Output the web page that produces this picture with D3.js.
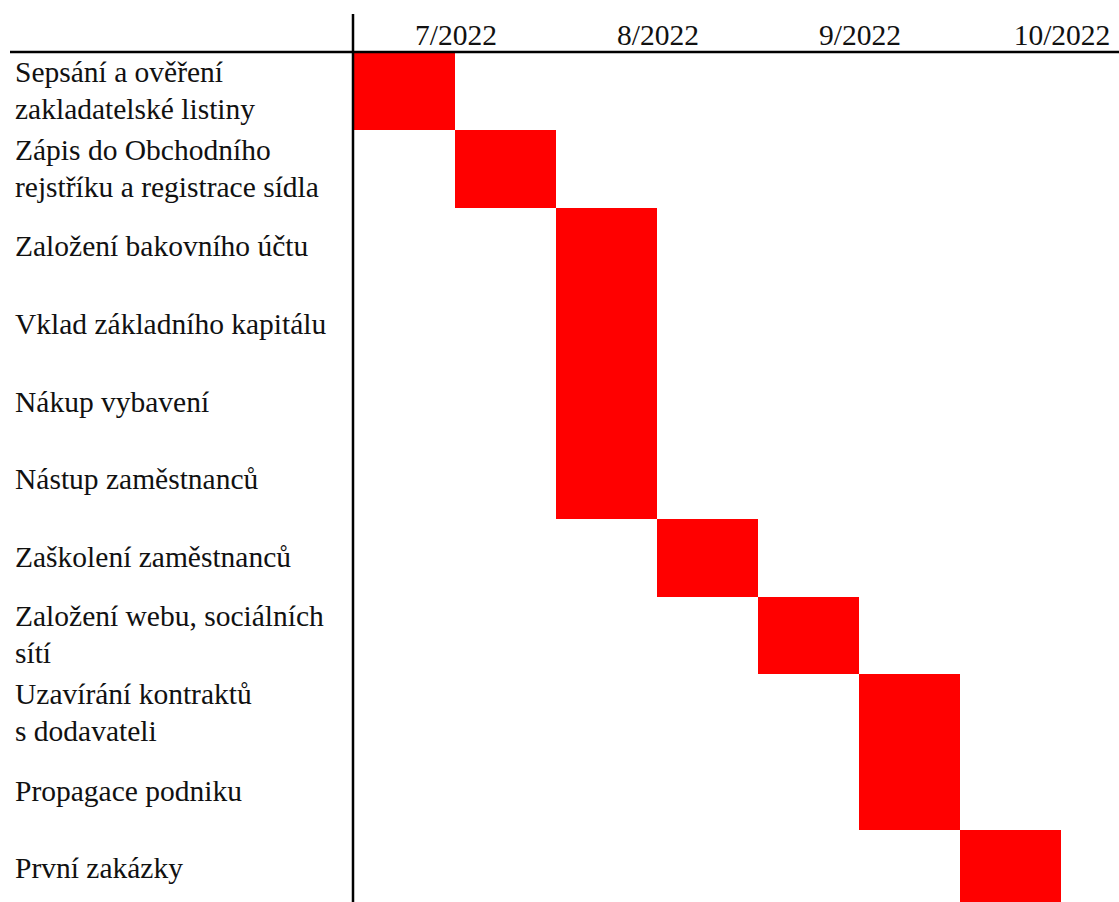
<!DOCTYPE html>
<html lang="cs">
<head>
<meta charset="utf-8">
<title>Harmonogram založení podniku</title>
<script src="https://cdn.jsdelivr.net/npm/d3@7"></script>
<style>
  html, body { margin: 0; padding: 0; background: #fff; }
  svg { display: block; }
  text, tspan { font-family: "Liberation Serif", "DejaVu Serif", serif; fill: #111; }
</style>
</head>
<body>
<svg id="chart" width="1119" height="902"></svg>
<script>
// Months shown in the header; each month is split into two halves.
const months = ["7/2022", "8/2022", "9/2022", "10/2022"];

// Task names (each array entry is one wrapped line of the label).
const tasks = [
  ["Sepsání a ověření", "zakladatelské listiny"],
  ["Zápis do Obchodního", "rejstříku a registrace sídla"],
  ["Založení bakovního účtu"],
  ["Vklad základního kapitálu"],
  ["Nákup vybavení"],
  ["Nástup zaměstnanců"],
  ["Zaškolení zaměstnanců"],
  ["Založení webu, sociálních", "sítí"],
  ["Uzavírání kontraktů", "s dodavateli"],
  ["Propagace podniku"],
  ["První zakázky"]
];

// Start of each task, in half-months from the beginning of 7/2022.
const startHalf = [0, 1, 2, 2, 2, 2, 3, 4, 5, 5, 6];
// Duration of each task, in half-months.
const durationHalf = [1, 1, 1, 1, 1, 1, 1, 1, 1, 1, 1];

const FONT = '"Liberation Serif", "DejaVu Serif", serif';
const FONT_SIZE = 29.5;

const svg = d3.select("#chart");

const labelX = 15;
const gridLeft = 354;
const halfWidth = 101;
const headerY = 52;
const rowH = 77.8;

// Time axis in half-month units.
const x = d3.scaleLinear()
  .domain([0, months.length * 2])
  .range([gridLeft, gridLeft + months.length * 2 * halfWidth]);

// One band per task row.
const y = d3.scaleBand()
  .domain(d3.range(tasks.length))
  .range([headerY, headerY + tasks.length * rowH])
  .paddingInner(0).paddingOuter(0);

// Bars
svg.append("g")
  .attr("shape-rendering", "crispEdges")
  .selectAll("rect")
  .data(d3.range(tasks.length))
  .join("rect")
  .attr("x", i => x(startHalf[i]))
  .attr("y", i => y(i))
  .attr("width", i => x(startHalf[i] + durationHalf[i]) - x(startHalf[i]))
  .attr("height", y.bandwidth())
  .attr("fill", "#ff0000");

// Month headers, centred over each month
svg.append("g")
  .selectAll("text")
  .data(months)
  .join("text")
  .attr("x", (d, i) => x(i * 2 + 1) + 1)
  .attr("y", 44.5)
  .attr("text-anchor", "middle")
  .attr("font-family", FONT)
  .attr("font-size", FONT_SIZE)
  .text(d => d);

// Task labels, vertically centred in their rows
const lineH = 37;
const labels = svg.append("g")
  .selectAll("text")
  .data(tasks)
  .join("text")
  .attr("font-family", FONT)
  .attr("font-size", FONT_SIZE);

labels.each(function (lines, i) {
  const cy = y(i) + y.bandwidth() / 2;
  const first = cy - (lines.length - 1) * lineH / 2;
  d3.select(this).selectAll("tspan")
    .data(lines)
    .join("tspan")
    .attr("font-family", FONT)
    .attr("x", labelX)
    .attr("y", (d, k) => first + k * lineH)
    .attr("dy", "0.32em")
    .text(d => d);
});

// Table rules
svg.append("line")
  .attr("x1", 10).attr("x2", 1119)
  .attr("y1", headerY).attr("y2", headerY)
  .attr("stroke", "#000").attr("stroke-width", 2.5);

svg.append("line")
  .attr("x1", gridLeft - 1).attr("x2", gridLeft - 1)
  .attr("y1", 14).attr("y2", 902)
  .attr("stroke", "#000").attr("stroke-width", 2.5);
</script>
</body>
</html>
